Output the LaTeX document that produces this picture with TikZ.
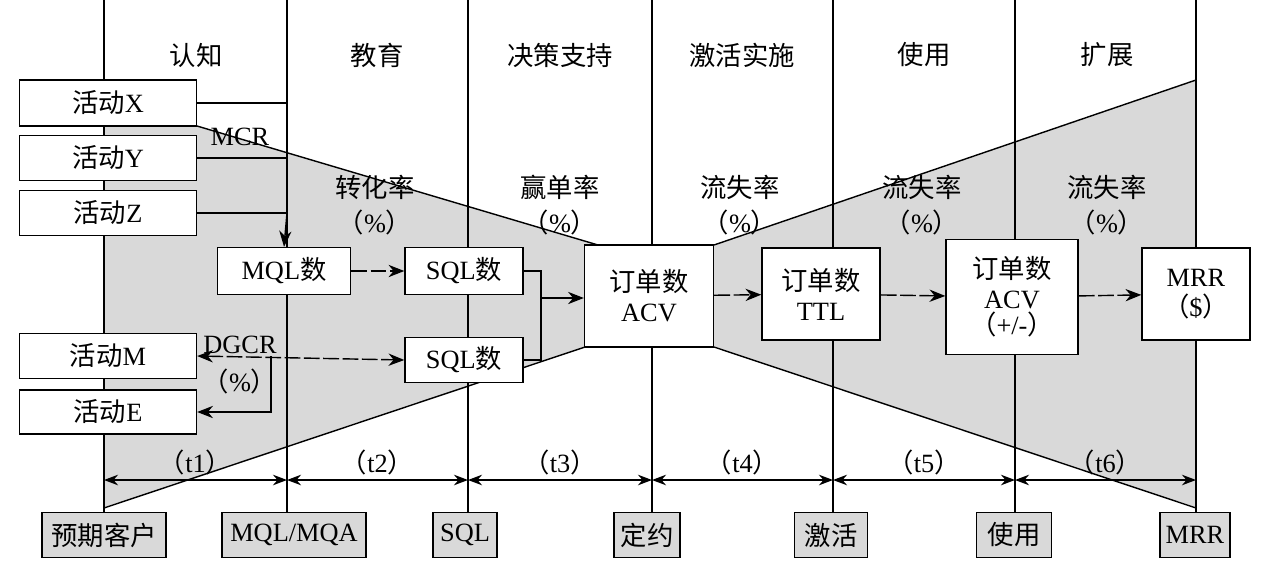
\documentclass[tikz,border=0pt]{standalone}
\usepackage{fontspec}
\setmainfont{Liberation Serif}
\newfontfamily\cjk{Noto Sans CJK SC}
\usetikzlibrary{arrows.meta,calc}
\begin{document}
\begin{tikzpicture}[x=0.02cm,y=-0.02cm]
    \tikzstyle{bx} = [draw, thick, fill=white, inner sep=0pt, font=\fontsize{15}{17}\selectfont];
    \tikzstyle{gb} = [draw, thick, fill=black!15, inner sep=0pt, font=\fontsize{15}{17}\selectfont];
    \tikzstyle{lb} = [font=\fontsize{15}{17}\selectfont, inner sep=1pt];
    \tikzstyle{ar} = [thick, -{Stealth[length=9pt,width=7pt]}];
    \tikzstyle{da} = [thick, dash pattern=on 9pt off 2pt, -{Stealth[length=9pt,width=7pt]}];
    \useasboundingbox (0,0) rectangle (1280,575);

    % funnels
    \fill[black!15] (104,126) -- (197,126) -- (598,245) -- (585,347) -- (104,508) -- cycle;
    \fill[black!15] (714,245) -- (1196,80) -- (1196,508) -- (714,347) -- cycle;
    \draw[thick] (197,126) -- (598,245);
    \draw[thick] (104,508) -- (585,347);
    \draw[thick] (714,245) -- (1196,80);
    \draw[thick] (714,347) -- (1196,508);

    % stage lines
    \foreach \x/\n in {104/0,287/1,468/2,652/3,833/4,1015/5,1196/6}{
        \coordinate (v\n) at (\x,480);
        \draw[thick] (\x,0) -- (\x,512);
    }
    \foreach \a/\b/\t in {0/1/1,1/2/2,2/3/3,3/4/4,4/5/5,5/6/6}{
        \draw[thick, {Stealth[length=8pt,width=6pt]}-{Stealth[length=8pt,width=6pt]}] (v\a) -- (v\b);
        \node[lb] at ($(v\a)!0.5!(v\b)+(0,-18)$) {{\cjk （}t\t{\cjk ）}};
    }

    % headers
    \node[lb] at (196,55) {\cjk 认知};
    \node[lb] at (377,55) {\cjk 教育};
    \node[lb] at (560,55) {\cjk 决策支持};
    \node[lb] at (742,55) {\cjk 激活实施};
    \node[lb] at (924,55) {\cjk 使用};
    \node[lb] at (1107,55) {\cjk 扩展};

    % rates
    \node[lb] at (375,187) {\cjk 转化率};
    \node[lb] at (375,222) {{\cjk （}\%{\cjk ）}};
    \node[lb] at (560,187) {\cjk 赢单率};
    \node[lb] at (560,222) {{\cjk （}\%{\cjk ）}};
    \foreach \x in {740,922,1107}{
        \node[lb] at (\x,187) {\cjk 流失率};
        \node[lb] at (\x,222) {{\cjk （}\%{\cjk ）}};
    }
    \node[lb] at (240,137) {MCR};
    \node[lb] at (240,345) {DGCR};
    \node[lb] at (240,381) {{\cjk （}\%{\cjk ）}};

    % activity boxes
    \node[bx, text width=3.54cm, minimum height=0.92cm, align=center] (X) at (108,103) {{\cjk 活动}X};
    \node[bx, text width=3.54cm, minimum height=0.9cm, align=center] (Y) at (108,158) {{\cjk 活动}Y};
    \node[bx, text width=3.54cm, minimum height=0.9cm, align=center] (Z) at (108,213) {{\cjk 活动}Z};
    \node[bx, text width=3.54cm, minimum height=0.9cm, align=center] (M) at (108,356) {{\cjk 活动}M};
    \node[bx, text width=3.54cm, minimum height=0.88cm, align=center] (E) at (108,412) {{\cjk 活动}E};

    % stage boxes
    \node[bx, text width=2.66cm, minimum height=0.94cm, align=center] (mql) at (284,271) {MQL{\cjk 数}};
    \node[bx, text width=2.36cm, minimum height=0.94cm, align=center] (sqla) at (464,271) {SQL{\cjk 数}};
    \node[bx, text width=2.36cm, minimum height=0.9cm, align=center] (sqlb) at (464,360) {SQL{\cjk 数}};
    \node[bx, text width=2.58cm, minimum height=2.04cm, align=center] (acv) at (649,296) {{\cjk 订单数}\\ACV};
    \node[bx, text width=2.36cm, minimum height=1.84cm, align=center] (ttl) at (821,294) {{\cjk 订单数}\\TTL};
    \node[bx, text width=2.64cm, minimum height=2.3cm, align=center] (acvb) at (1012,297) {{\cjk 订单数}\\ACV\\[-2pt]{\cjk （}+/-{\cjk ）}};
    \node[bx, text width=2.16cm, minimum height=1.84cm, align=center] (mrr) at (1196,294) {MRR\\{\cjk （}\${\cjk ）}};

    % bottom milestones
    \node[gb, minimum width=2.48cm, minimum height=0.9cm] (b0) at (104,535) {\cjk 预期客户};
    \node[gb, minimum width=2.88cm, minimum height=0.9cm] (b1) at (294,535) {MQL/MQA};
    \node[gb, minimum width=1.28cm, minimum height=0.9cm] (b2) at (465,535) {SQL};
    \node[gb, minimum width=1.32cm, minimum height=0.9cm] (b3) at (647,535) {\cjk 定约};
    \node[gb, minimum width=1.46cm, minimum height=0.9cm] (b4) at (831,535) {\cjk 激活};
    \node[gb, minimum width=1.5cm, minimum height=0.9cm] (b5) at (1014,535) {\cjk 使用};
    \node[gb, minimum width=1.4cm, minimum height=0.9cm] (b6) at (1195,535) {MRR};

    % connectors
    \coordinate (jx) at (287,103);
    \coordinate (jy) at (287,158);
    \coordinate (jz) at (287,213);
    \coordinate (ja) at (541,271);
    \coordinate (jb) at (541,360);
    \coordinate (jc) at (541,298);
    \coordinate (jd) at (271,356);
    \coordinate (je) at (271,412);
    \draw[thick] (X.east) -- (jx);
    \draw[thick] (Y.east) -- (jy);
    \draw[thick] (Z.east) -- (jz);
    \draw[ar] (jz) -- (mql.north);
    \draw[da] (mql) -- (sqla);
    \draw[thick] (sqla.east) -- (ja) -- (jb) -- (sqlb.east);
    \draw[ar] (jc) -- (acv.west |- jc);
    \draw[thick, dash pattern=on 9pt off 2pt, {Stealth[length=9pt,width=7pt]}-{Stealth[length=9pt,width=7pt]}] (M.east) -- (sqlb.west);
    \draw[ar] (jd) -- (je) -- (E.east);
    \draw[da] (acv) -- (ttl);
    \draw[da] (ttl) -- (acvb);
    \draw[da] (acvb) -- (mrr);
\end{tikzpicture}
\end{document}
